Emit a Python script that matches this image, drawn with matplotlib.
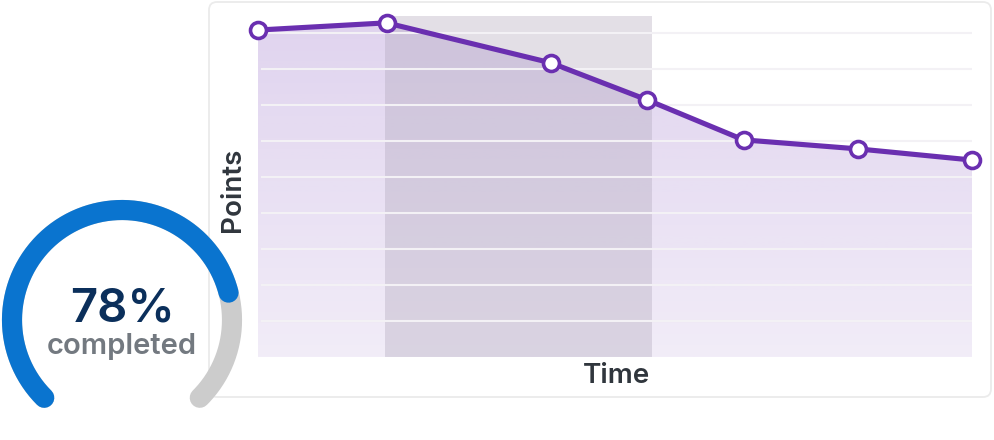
import numpy as np
import matplotlib.pyplot as plt
from matplotlib.patches import FancyBboxPatch

plt.rcParams["font.family"] = ["Inter", "DejaVu Sans"]

# data
time = [0, 1.8, 4.1, 5.45, 6.8, 8.4, 10]
points = [90.8, 92.8, 81.7, 71.4, 60.3, 57.8, 54.7]
highlight = (1.78, 5.52)
grid_levels = [10, 20, 30, 40, 50, 60, 70, 80, 90]
completed_pct = 78

W, H = 994, 440
fig = plt.figure(figsize=(W / 100, H / 100), dpi=100)

# background layer in pixel coordinates: card + gauge
bg = fig.add_axes([0, 0, 1, 1])
bg.set_xlim(0, W)
bg.set_ylim(H, 0)
bg.axis("off")
card = FancyBboxPatch((209, 2), 782, 395, boxstyle="round,pad=0,rounding_size=8",
                      fc="white", ec="#ebebeb", lw=1.3, zorder=1)
bg.add_patch(card)

# main chart
ax = fig.add_axes([258 / W, (H - 357) / H, 714 / W, 341 / H])
ax.set_facecolor("none")
for s in ax.spines.values():
    s.set_visible(False)
ax.set_xticks([])
ax.set_yticks([])

purple = "#6a2fb0"
poly = ax.fill_between(time, points, 0, color="none", lw=0)
grad = np.zeros((256, 1, 4))
grad[..., 0:3] = np.array([106, 47, 176]) / 255
grad[..., 3] = np.linspace(0.21, 0.09, 256)[:, None]
img = ax.imshow(grad, extent=[0, 10, 0, max(points)], origin="upper",
                aspect="auto", zorder=1)
img.set_clip_path(poly.get_paths()[0], transform=ax.transData)
ax.set_xlim(0, 10)
ax.set_ylim(0, 94.7)

ax.axvspan(*highlight, color="#ada4b8", alpha=0.34, lw=0, zorder=2)
for g in grid_levels:
    ax.axhline(g, xmin=0.005, xmax=1.0, color="#f3f1f5", lw=1.5, zorder=3)

ax.plot(time, points, color=purple, lw=3.7, zorder=4, clip_on=False,
        marker="o", ms=11.5, mfc="white", mec=purple, mew=2.6)

fig.text(233 / W, 1 - 190 / H, "Points", rotation=90, ha="center", va="center",
         fontsize=20, fontweight="semibold", color="#30363d")
fig.text(617 / W, 1 - 376 / H, "Time", ha="center", va="center",
         fontsize=20, fontweight="semibold", color="#30363d")

# gauge
cx, cy, r = 122, 320, 110
start, sweep = 225, 270
th_all = np.radians(np.linspace(start, start - sweep, 300))
bg.plot(cx + r * np.cos(th_all), cy - r * np.sin(th_all), color="#cccccc",
        lw=14.5, solid_capstyle="round", zorder=3)
th_done = np.radians(np.linspace(start, start - sweep * completed_pct / 100, 300))
bg.plot(cx + r * np.cos(th_done), cy - r * np.sin(th_done), color="#0a74cf",
        lw=14.5, solid_capstyle="round", zorder=4)
bg.text(cx, 309, f"{completed_pct}%", ha="center", va="center", fontsize=34,
        fontweight="semibold", color="#0b2f5b", zorder=5)
bg.text(cx, 347, "completed", ha="center", va="center", fontsize=21,
        fontweight="semibold", color="#737980", zorder=5)

fig.savefig("out.png", dpi=100)
